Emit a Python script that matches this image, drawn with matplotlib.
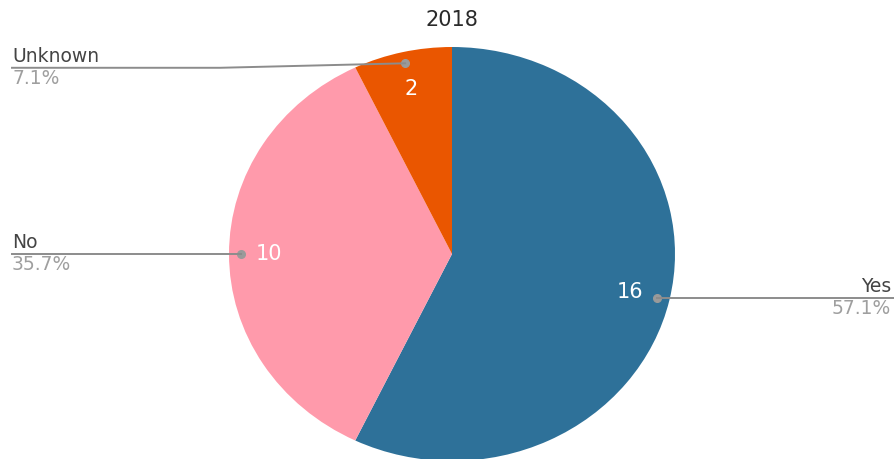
import matplotlib
matplotlib.use("Agg")
import matplotlib.pyplot as plt
import numpy as np
from matplotlib.lines import Line2D

title = "2018"
categories = ["Yes", "No", "Unknown"]
values = [16, 10, 2]
colors = ["#2E7199", "#FF9AAB", "#EA5600"]

W, H = 894, 459
fig = plt.figure(figsize=(W / 100, H / 100), dpi=100)
fig.patch.set_facecolor("white")

# pie box in pixels (left, top, width, height)
pl, pt, pw, ph = 229, 47, 446, 414
ax = fig.add_axes([pl / W, 1 - (pt + ph) / H, pw / W, ph / H])
wedges, _ = ax.pie(values, colors=colors, startangle=90, counterclock=False,
                   radius=1, wedgeprops=dict(linewidth=0))
ax.set_aspect("auto")
ax.set_xlim(-1, 1)
ax.set_ylim(-1, 1)
ax.axis("off")

total = sum(values)
fig.text(0.5 * (2 * pl + pw) / W, 1 - 26 / H, title, ha="center", va="baseline",
         fontsize=15, color="#2a2a2a")

label_c = "#444444"
pct_c = "#9f9f9f"
line_c = "#8c8c8c"

def to_fig(x, y):
    d = ax.transData.transform((x, y))
    return fig.transFigure.inverted().transform(d)

fig.canvas.draw()
for w, cat, v in zip(wedges, categories, values):
    mid = np.deg2rad(0.5 * (w.theta1 + w.theta2))
    cx, cy = np.cos(mid), np.sin(mid)
    # inner value
    ax.text(0.82 * cx, 0.82 * cy, str(v), ha="center", va="center",
            fontsize=15, color="white")
    # dot
    dx, dy = to_fig(0.945 * cx, 0.945 * cy)
    ax.plot([0.945 * cx], [0.945 * cy], "o", ms=5.5, color="#9a9a9a",
            clip_on=False, zorder=5)
    pct = f"{100 * v / total:.1f}%"
    if cx > 0.5:
        xe = 1.0
        fig.add_artist(Line2D([dx, xe], [dy, dy], color=line_c, lw=1.4,
                              transform=fig.transFigure))
        fig.text(891 / W, dy + 6 / H, cat, ha="right", va="baseline",
                 fontsize=13.5, color=label_c)
        fig.text(891 / W, dy - 1 / H, pct, ha="right", va="top",
                 fontsize=13.5, color=pct_c)
    else:
        xs = 12 / W
        yl = dy - 4.5 / H if cy > 0.5 else dy
        xk = 220 / W if cy > 0.5 else dx
        fig.add_artist(Line2D([xs, xk, dx], [yl, yl, dy], color=line_c, lw=1.4,
                              transform=fig.transFigure))
        fig.text(xs, yl + 6 / H, cat, ha="left", va="baseline",
                 fontsize=13.5, color=label_c)
        fig.text(xs, yl - 1 / H, pct, ha="left", va="top",
                 fontsize=13.5, color=pct_c)

fig.savefig("out.png", dpi=100, facecolor="white")
